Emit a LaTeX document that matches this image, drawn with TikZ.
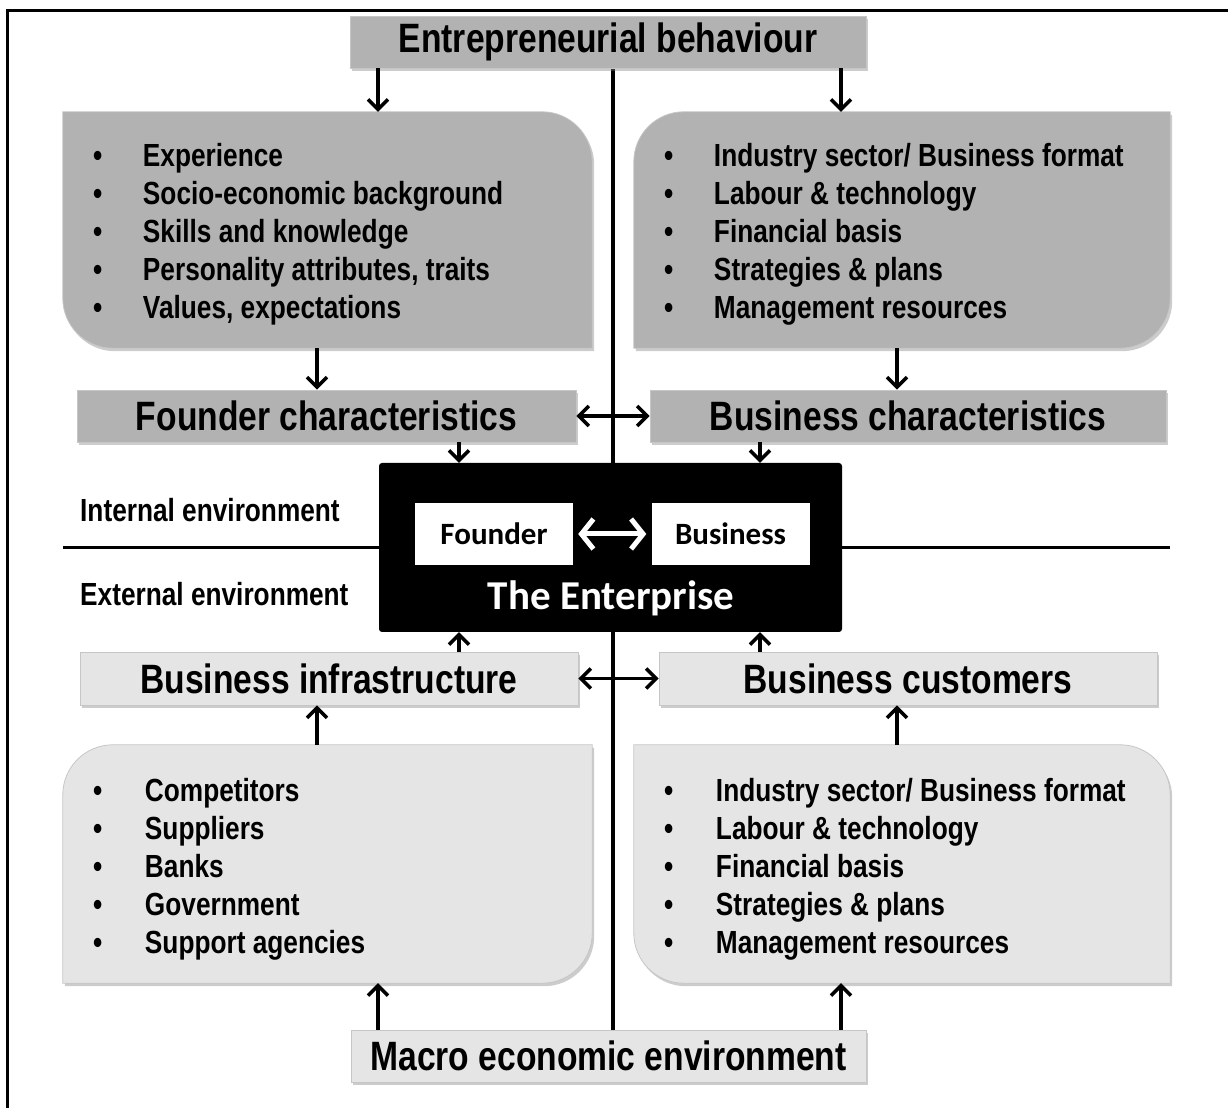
\documentclass[tikz,border=0pt]{standalone}
\usepackage{fontspec}
\setmainfont{Liberation Sans}
\newfontfamily\narrowfont[FakeStretch=0.82]{Liberation Sans}
\newfontfamily\califont{Carlito}
\usetikzlibrary{arrows.meta, shadows, backgrounds}

\definecolor{boxdark}{gray}{0.70}
\definecolor{boxlight}{gray}{0.90}

\tikzset{
  headbox/.style={rectangle, minimum height=52pt, inner sep=0pt, draw=gray!45, line width=0.8pt,
    drop shadow={shadow xshift=2pt, shadow yshift=-3pt, opacity=0.4},
    font=\narrowfont\bfseries\fontsize{41}{41}\selectfont},
  listbox/.style={rectangle, inner sep=0pt,
    font=\narrowfont\bfseries\fontsize{32}{38}\selectfont},
  listshape/.style={draw=gray!45, line width=0.8pt,
    drop shadow={shadow xshift=2pt, shadow yshift=-3pt, opacity=0.4}},
  whitebox/.style={rectangle, fill=white, minimum width=158pt, minimum height=62pt, inner sep=0pt,
    font=\califont\bfseries\fontsize{31}{31}\selectfont},
  envlabel/.style={anchor=west, inner sep=0pt, font=\narrowfont\bfseries\fontsize{32}{32}\selectfont},
  arr/.style={->, line width=3.5pt},
  darr/.style={<->, line width=3.5pt},
}

% rounded top-right and bottom-left corners
\newcommand\leafNE[2]{%
  \path[#2] (#1.north west) -- ([xshift=-50pt]#1.north east) arc[start angle=90, end angle=0, radius=50pt]
    -- (#1.south east) -- ([xshift=50pt]#1.south west) arc[start angle=270, end angle=180, radius=50pt] -- cycle;}
% rounded top-left and bottom-right corners
\newcommand\leafNW[2]{%
  \path[#2] (#1.north east) -- ([yshift=50pt]#1.south east) arc[start angle=0, end angle=-90, radius=50pt]
    -- (#1.south west) -- ([yshift=-50pt]#1.north west) arc[start angle=180, end angle=90, radius=50pt] -- cycle;}

\begin{document}
\begin{tikzpicture}[x=1pt, y=1pt, >={Straight Barb[length=10pt,width=20pt]}]
    \useasboundingbox (0,0) rectangle (1228,1108);
    % frame
    \draw[line width=3pt] (7,0) -- (7,1097) -- (1228,1097);

    % column positions for the arrows
    \coordinate (cA) at (378,0);
    \coordinate (cB) at (841,0);
    \coordinate (cC) at (317,0);
    \coordinate (cD) at (897,0);
    \coordinate (cE) at (459,0);
    \coordinate (cF) at (760,0);
    \coordinate (cM) at (613,0);

    % top and bottom
    \node[headbox, fill=boxdark, minimum width=516pt] (entre) at (608,1066) {Entrepreneurial behaviour};
    \node[headbox, fill=boxlight, minimum width=515pt] (macro) at (608.5,52) {Macro economic environment};

    % inner lists
    \node[listbox, minimum width=529pt, minimum height=236pt] (ul) at (327.5,878) {%
      \makebox[469pt][l]{\begin{tabular}{@{}p{50pt}@{}l@{}}
        \noalign{\vspace{10pt}}
        \textbullet & Experience\\
        \textbullet & Socio-economic background\\
        \textbullet & Skills and knowledge\\
        \textbullet & Personality attributes, traits\\
        \textbullet & Values, expectations
      \end{tabular}}};
    \node[listbox, minimum width=536pt, minimum height=236pt] (ur) at (902,878) {%
      \makebox[476pt][l]{\begin{tabular}{@{}p{50pt}@{}l@{}}
        \noalign{\vspace{10pt}}
        \textbullet & Industry sector/ Business format\\
        \textbullet & Labour \& technology\\
        \textbullet & Financial basis\\
        \textbullet & Strategies \& plans\\
        \textbullet & Management resources
      \end{tabular}}};

    \node[headbox, fill=boxdark, minimum width=499pt] (fchar) at (326.5,692) {Founder characteristics};
    \node[headbox, fill=boxdark, minimum width=516pt] (bchar) at (908,692) {Business characteristics};

    % the enterprise
    \node[fill=black, rounded corners=3pt, minimum width=463pt, minimum height=169pt] (ent) at (610.5,560.5) {};
    \node[whitebox] (founder) at (494,574) {Founder};
    \node[whitebox] (business) at (730.5,574) {Business};
    \node[text=white, font=\califont\bfseries\fontsize{41}{41}\selectfont] (title) at (611,510) {The Enterprise};
    \draw[<->, >={Straight Barb[length=12pt,width=30pt]}, white, line width=5pt, shorten <=5pt, shorten >=5pt]
        (founder) -- (business);

    % outer side
    \node[headbox, fill=boxlight, minimum width=498pt, minimum height=53pt] (infra) at (329,429.5) {Business infrastructure};
    \node[headbox, fill=boxlight, minimum width=498pt, minimum height=53pt] (cust) at (908,429.5) {Business customers};

    \node[listbox, minimum width=529pt, minimum height=238pt] (ll) at (327.5,244) {%
      \makebox[469pt][l]{\begin{tabular}{@{}p{52pt}@{}l@{}}
        \noalign{\vspace{12pt}}
        \textbullet & Competitors\\
        \textbullet & Suppliers\\
        \textbullet & Banks\\
        \textbullet & Government\\
        \textbullet & Support agencies
      \end{tabular}}};
    \node[listbox, minimum width=536pt, minimum height=238pt] (lr) at (902,244) {%
      \makebox[476pt][l]{\begin{tabular}{@{}p{52pt}@{}l@{}}
        \noalign{\vspace{12pt}}
        \textbullet & Industry sector/ Business format\\
        \textbullet & Labour \& technology\\
        \textbullet & Financial basis\\
        \textbullet & Strategies \& plans\\
        \textbullet & Management resources
      \end{tabular}}};

    % environment labels and divider
    \node[envlabel] (internal) at (80,598) {Internal environment};
    \node[envlabel] (external) at (80,514) {External environment};
    \coordinate (envL) at (63,560);
    \coordinate (envR) at (1170,560);
    \draw[line width=3pt] (envL) -- (envL -| ent.west);
    \draw[line width=3pt] (envR) -- (envR -| ent.east);

    % list shapes and centre line behind everything
    \begin{scope}[on background layer]
        \draw[line width=3.5pt] (entre.south -| cM) -- (macro.north -| cM);
        \leafNE{ul}{listshape, fill=boxdark}
        \leafNW{ur}{listshape, fill=boxdark}
        \leafNW{ll}{listshape, fill=boxlight}
        \leafNE{lr}{listshape, fill=boxlight}
    \end{scope}

    % arrows
    \draw[arr] (entre.south -| cA) -- (ul.north -| cA);
    \draw[arr] (entre.south -| cB) -- (ur.north -| cB);
    \draw[arr] (ul.south -| cC) -- (fchar.north -| cC);
    \draw[arr] (ur.south -| cD) -- (bchar.north -| cD);
    \draw[darr] (fchar) -- (bchar);
    \draw[arr] (fchar.south -| cE) -- (ent.north -| cE);
    \draw[arr] (bchar.south -| cF) -- (ent.north -| cF);
    \draw[arr] (infra.north -| cE) -- (ent.south -| cE);
    \draw[arr] (cust.north -| cF) -- (ent.south -| cF);
    \draw[darr] (infra) -- (cust);
    \draw[arr] (ll.north -| cC) -- (infra.south -| cC);
    \draw[arr] (lr.north -| cD) -- (cust.south -| cD);
    \draw[arr] (macro.north -| cA) -- (ll.south -| cA);
    \draw[arr] (macro.north -| cB) -- (lr.south -| cB);
\end{tikzpicture}
\end{document}
